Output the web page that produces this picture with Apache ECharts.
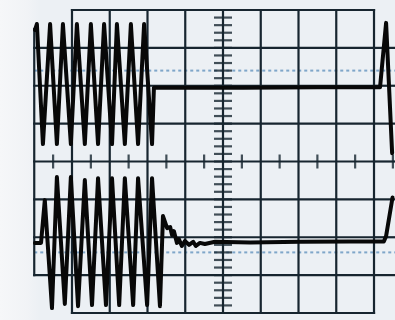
<!DOCTYPE html>
<html>
<head>
<meta charset="utf-8">
<script src="https://cdn.jsdelivr.net/npm/echarts@6/dist/echarts.min.js"></script>
<style>
html,body{margin:0;padding:0;background:#ecf0f4;}
#c{width:395px;height:320px;}
</style>
</head>
<body>
<div id="c"></div>
<script>
// Units: oscilloscope divisions (x: time div, y: volts div), screen center = (0,0)
const ch1X = [-4.98,-4.93,-4.77,-4.58,-4.40,-4.24,-4.03,-3.87,-3.66,-3.50,-3.31,-3.15,-2.94,-2.81,-2.60,-2.44,-2.25,-2.09,-1.88,-1.83,0.50,2.50,4.16,4.32,4.48];
const ch1Y = [3.47,3.63,0.46,3.63,0.46,3.63,0.46,3.63,0.46,3.63,0.46,3.63,0.46,3.63,0.46,3.63,0.46,3.63,0.46,1.95,1.95,1.96,1.96,3.66,0.22];

const ch2X = [-4.98,-4.82,-4.72,-4.53,-4.40,-4.19,-4.03,-3.84,-3.66,-3.47,-3.31,-3.10,-2.94,-2.75,-2.60,-2.38,-2.25,-2.01,-1.88,-1.67,-1.59,-1.48,-1.40,-1.35,-1.30,-1.22,-1.17,-1.09,-1.01,-0.90,-0.79,-0.72,-0.61,-0.48,-0.21,0.72,2.04,3.36,4.26,4.32,4.49];
const ch2Y = [-2.15,-2.15,-1.02,-3.87,-0.41,-3.76,-0.41,-3.82,-0.49,-3.79,-0.44,-3.79,-0.44,-3.79,-0.44,-3.79,-0.44,-3.79,-0.44,-3.82,-1.44,-1.76,-1.73,-1.94,-1.84,-2.15,-2.05,-2.23,-2.10,-2.20,-2.12,-2.23,-2.15,-2.18,-2.12,-2.14,-2.12,-2.11,-2.11,-1.97,-0.95];

const refLevels = [2.4, -2.4];          // dashed reference lines
const gridDivs = [-4,-3,-2,-1,0,1,2,3,4];
const extRows = [3,2,1,0,-1,-2,-3];      // graticule rows extending past the frame
const extLeft = -5, extRight = 4.7, extTop = 3.5;
// visible window of the screen photo, in divisions
const viewX = [-5.907, 4.556], viewY = [-4.185, 4.264];

const GRID_C = '#17252f', TRACE_C = '#080808', DASH_C = '#7fa6c9';

const series = [];
function seg(pts, color, width) {
  series.push({type:'line', data:pts, symbol:'none', silent:true, z:2,
    lineStyle:{color:color, width:width, cap:'square'}});
}
// main graticule
gridDivs.forEach(d => {
  seg([[d,-4],[d,4]], GRID_C, 2.2);
  seg([[-4,d],[4,d]], GRID_C, 2.2);
});
// extended graticule pieces
extRows.forEach(r => { seg([[extLeft,r],[-4,r]], GRID_C, 2.2); seg([[4,r],[extRight,r]], GRID_C, 2.2); });
seg([[extLeft,extTop],[extLeft,-3]], GRID_C, 2.2);
// dashed reference lines
refLevels.forEach(l => series.push({type:'line', data:[[extLeft,l],[extRight,l]], symbol:'none', silent:true, z:1,
  lineStyle:{color:DASH_C, width:2, type:[3,3]}}));
// center axis minor ticks
const vTicks = [];
for (let i = -19; i <= 19; i++) vTicks.push([0, i/5]);
series.push({type:'scatter', data:vTicks, symbol:'rect', symbolSize:[18,2.2], silent:true, z:3,
  itemStyle:{color:GRID_C}});
const hTicks = [];
for (let i = -5; i <= 4; i++) hTicks.push([i+0.5, 0]);
series.push({type:'scatter', data:hTicks, symbol:'rect', symbolSize:[2.2,14], silent:true, z:3,
  itemStyle:{color:GRID_C}});
// traces
series.push({type:'line', data:ch1X.map((x,i)=>[x,ch1Y[i]]), symbol:'none', z:5,
  lineStyle:{color:TRACE_C, width:4, cap:'round', join:'round'}});
series.push({type:'line', data:ch2X.map((x,i)=>[x,ch2Y[i]]), symbol:'none', z:5,
  lineStyle:{color:TRACE_C, width:4, cap:'round', join:'round'}});

const chart = echarts.init(document.getElementById('c'), null, {renderer:'canvas'});
chart.setOption({
  animation:false,
  backgroundColor:{type:'linear', x:0, y:0, x2:1, y2:0,
    colorStops:[{offset:0, color:'#f6f7f9'}, {offset:0.07, color:'#f1f3f6'}, {offset:0.1, color:'#ecf0f4'}, {offset:1, color:'#ecf0f4'}]},
  grid:{left:0, top:0, right:0, bottom:0, show:false},
  xAxis:{type:'value', min:viewX[0], max:viewX[1], show:false, splitLine:{show:false}},
  yAxis:{type:'value', min:viewY[0], max:viewY[1], show:false, splitLine:{show:false}},
  series:series
});
</script>
</body>
</html>
